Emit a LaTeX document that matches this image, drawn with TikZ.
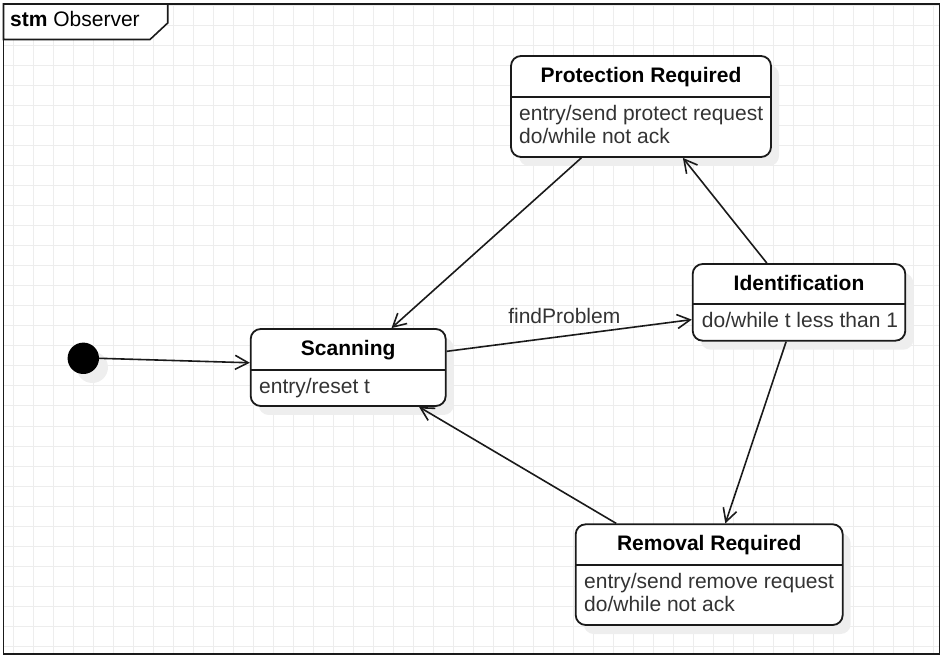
\documentclass[tikz,border=0pt]{standalone}
\usepackage{fontspec}
\setmainfont{Liberation Sans}
\usetikzlibrary{arrows.meta,calc}
\definecolor{gridc}{HTML}{EDEDED}
\definecolor{shadowc}{HTML}{EEEEEE}
\definecolor{bodyc}{HTML}{333333}
\definecolor{linec}{HTML}{1A1A1A}
\tikzset{
  statebox/.style={draw=linec, line width=1.8pt, fill=white, rounded corners=10pt, inner sep=0pt, minimum width=#1},
  shadowbox/.style={fill=shadowc, rounded corners=10pt},
  divider/.style={draw=linec, line width=1.8pt},
  ttl/.style={anchor=base, font=\fontsize{21}{25}\selectfont\bfseries, text=black, inner sep=0pt},
  body/.style={anchor=base west, font=\fontsize{21}{25}\selectfont, text=bodyc, inner sep=0pt},
  arr/.style={draw=linec, line width=1.6pt, -{Straight Barb[length=13pt,width=14pt,line width=1.6pt]}},
}
\begin{document}
\begin{tikzpicture}[x=1pt,y=-1pt]
\useasboundingbox (0,0) rectangle (943,660);
% grid
\begin{scope}
\clip (3.5,4) rectangle (939.5,654);
\foreach \gx in {13,33,...,933} \draw[gridc, line width=1pt] (\gx,4) -- (\gx,654);
\foreach \gy in {6,26,...,646} \draw[gridc, line width=1pt] (3.5,\gy) -- (939.5,\gy);
\end{scope}
% frame
\draw[linec, line width=1.6pt] (3.5,4) rectangle (939.5,654);
\draw[linec, line width=1.6pt, fill=white] (3.5,4) -- (167.7,4) -- (167.7,23) -- (150,39.5) -- (3.5,39.5) -- cycle;
\node[anchor=base west, inner sep=0pt, font=\fontsize{21}{25}\selectfont] (lbl) at (10,27) {\textbf{stm} Observer};

% shadows
\fill[shadowbox] (519,65) rectangle (779,166);
\fill[shadowbox] (258.7,338) rectangle (453.7,415);
\fill[shadowbox] (700.7,273) rectangle (913.3,349.7);
\fill[shadowbox] (583.7,533.3) rectangle (850.7,634);
\fill[shadowc] (92.3,367.3) circle (15.7);

% initial
\fill[black] (83.3,358.3) circle (15.7);
\coordinate (init) at (99,358.3);

% states
\node[statebox=260pt, minimum height=101pt] (prot) at (641,106.5) {};
\draw[divider] (511,96.7) -- (771,96.7);
\node[ttl] (protT) at (641,83) {Protection Required};
\node[body] (protB1) at (519,121) {entry/send protect request};
\node[body] (protB2) at (519,144) {do/while not ack};

\node[statebox=195pt, minimum height=77pt] (scan) at (348.2,367.5) {};
\draw[divider] (250.7,370) -- (445.7,370);
\node[ttl] (scanT) at (348.2,355.7) {Scanning};
\node[body] (scanB1) at (259,394) {entry/reset t};

\node[statebox=212.6pt, minimum height=76.7pt] (ident) at (799,302.35) {};
\draw[divider] (692.7,304.3) -- (905.3,304.3);
\node[ttl] (identT) at (799,291) {Identification};
\node[body] (identB1) at (701.7,328) {do/while t less than 1};

\node[statebox=267pt, minimum height=100.7pt] (rem) at (709.2,574.65) {};
\draw[divider] (575.7,565) -- (842.7,565);
\node[ttl] (remT) at (709.2,550.7) {Removal Required};
\node[body] (remB1) at (584,588) {entry/send remove request};
\node[body] (remB2) at (584,611.7) {do/while not ack};

% transitions
\draw[arr] (init) -- ($(scan.north west)!0.44!(scan.south west)$);
\draw[arr] ($(prot.south west)!0.272!(prot.south east)$) -- ($(scan.north west)!0.72!(scan.north east)$);
\draw[arr] ($(ident.north west)!0.35!(ident.north east)$) -- ($(prot.south west)!0.66!(prot.south east)$);
\draw[arr] ($(scan.north east)!0.295!(scan.south east)$) -- node[pos=0.48, above=12pt, inner sep=0pt, font=\fontsize{21}{25}\selectfont, text=bodyc] (fp) {findProblem} ($(ident.north west)!0.72!(ident.south west)$);
\draw[arr] ($(ident.south west)!0.44!(ident.south east)$) -- ($(rem.north west)!0.56!(rem.north east)$);
\draw[arr] ($(rem.north west)!0.154!(rem.north east)$) -- ($(scan.south west)!0.86!(scan.south east)$);
\end{tikzpicture}
\end{document}
